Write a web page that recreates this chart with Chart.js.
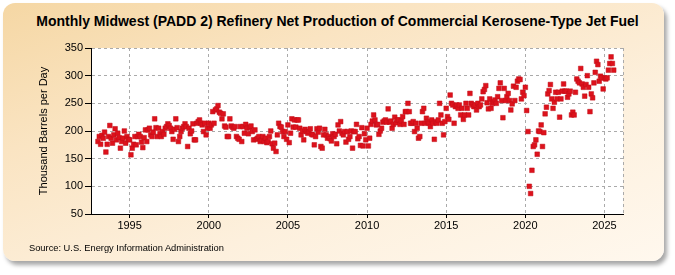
<!DOCTYPE html>
<html>
<head>
<meta charset="utf-8">
<script src="https://cdn.jsdelivr.net/npm/chart.js@4.4.1/dist/chart.umd.min.js"></script>
<style>
  body { margin: 0; background: #fff; }
  #wrap { position: relative; width: 675px; height: 275px; overflow: hidden; }
  #panel {
    position: absolute; left: 3px; top: 3px; width: 661px; height: 258px;
    border-radius: 12px;
    background: linear-gradient(160deg, #f5d7a4 0%, #fae4c2 30%, #fdf0dd 65%, #fff8ee 100%);
    box-shadow: 3px 4px 4px rgba(0, 0, 0, 0.35);
  }
  #title {
    position: absolute; left: 0; top: 13px; width: 675px; text-align: center;
    font: bold 14px "Liberation Sans", Arial, sans-serif; color: #000;
  }
  #source {
    position: absolute; left: 29px; top: 243px;
    font: 9.3px "Liberation Sans", Arial, sans-serif; color: #000;
  }
  canvas { position: absolute; left: 0; top: 0; }
</style>
</head>
<body>
<div id="wrap">
  <div id="panel"></div>
  <div id="title">Monthly Midwest (PADD 2) Refinery Net Production of Commercial Kerosene-Type Jet Fuel</div>
  <canvas id="jetFuel" width="675" height="275"></canvas>
  <div id="source">Source: U.S. Energy Information Administration</div>
</div>
<script>
// monthly values, thousand barrels per day, starting Jan 1993
const startYear = 1993;
const prod1990s = [
  181, 190, 176, 192, 187, 198, 162, 176, 190, 210, 187, 178,
  193, 204, 184, 196, 188, 169, 181, 187, 200, 178, 190, 185,
  184, 157, 169, 176, 190, 175, 190, 194, 190, 180, 170, 188,
  202, 181, 202, 205, 193, 190, 198, 222, 206, 190, 205, 195,
  190, 199, 194, 205, 208, 213, 210, 205, 199, 185, 203, 222,
  206, 181, 190, 199, 205, 208, 213, 208, 172, 205, 195, 200,
  213, 184, 184, 214, 217, 220, 214, 211, 199, 214, 193, 205
];
const prod2000s = [
  214, 205, 211, 235, 214, 238, 240, 246, 234, 232, 222, 231,
  209, 207, 190, 190, 222, 209, 207, 205, 208, 190, 187, 185,
  208, 181, 208, 196, 212, 205, 195, 207, 209, 199, 184, 202,
  185, 187, 190, 181, 184, 190, 181, 187, 179, 181, 190, 200,
  177, 169, 178, 163, 193, 214, 208, 207, 199, 190, 199, 185,
  211, 179, 196, 222, 207, 220, 207, 220, 220, 205, 193, 200,
  184, 203, 199, 196, 199, 204, 194, 193, 175, 190, 204, 198,
  205, 172, 169, 193, 203, 193, 187, 190, 186, 182, 195, 190,
  194, 177, 211, 200, 217, 196, 193, 199, 180, 199, 185, 190,
  200, 169, 199, 199, 212, 186, 190, 174, 206, 173, 195, 184
];
const prod2010s = [
  205, 173, 187, 212, 218, 229, 220, 211, 212, 194, 200, 205,
  216, 218, 220, 216, 240, 216, 218, 205, 212, 225, 215, 220,
  220, 212, 218, 226, 212, 235, 235, 250, 235, 214, 214, 217,
  199, 214, 205, 187, 190, 214, 235, 241, 214, 223, 217, 214,
  208, 220, 214, 185, 217, 214, 220, 250, 229, 214, 193, 217,
  241, 226, 221, 265, 250, 247, 214, 244, 247, 241, 247, 229,
  241, 221, 229, 250, 241, 229, 268, 250, 247, 244, 247, 238,
  250, 244, 247, 258, 271, 275, 282, 251, 240, 258, 241, 250,
  253, 256, 250, 262, 277, 287, 255, 224, 277, 255, 262, 268,
  255, 238, 249, 281, 255, 279, 290, 294, 293, 258, 270, 264
];
const prod2020s = [
  279, 237, 199, 100, 87, 129, 172, 175, 184, 158, 200, 199,
  211, 172, 197, 231, 243, 267, 273, 284, 258, 241, 252, 270,
  258, 270, 225, 258, 272, 285, 272, 272, 261, 267, 272, 229,
  234, 229, 270, 294, 290, 287, 313, 285, 279, 263, 284, 300,
  279, 235, 267, 260, 287, 306, 326, 320, 290, 299, 296, 276,
  296, 294, 296, 310, 322, 334, 322, 310
];
const yearTicks = [1995, 2000, 2005, 2010, 2015, 2020, 2025];
const valueTicks = [50, 100, 150, 200, 250, 300, 350];

const allValues = prod1990s.concat(prod2000s, prod2010s, prod2020s);
const points = allValues.map(function(v, i) {
  return { x: startYear + i / 12, y: v };
});

// white plot area plus dashed right edge
const plotBg = {
  id: 'plotBg',
  beforeDraw(chart) {
    const a = chart.chartArea, ctx = chart.ctx;
    ctx.save();
    ctx.fillStyle = '#fff';
    ctx.fillRect(a.left, a.top, a.right - a.left, a.bottom - a.top);
    ctx.restore();
  },
  beforeDatasetsDraw(chart) {
    const a = chart.chartArea, ctx = chart.ctx;
    ctx.save();
    ctx.strokeStyle = '#aaa';
    ctx.setLineDash([3, 3]);
    ctx.beginPath();
    ctx.moveTo(Math.round(a.right) + 0.5, a.top);
    ctx.lineTo(Math.round(a.right) + 0.5, a.bottom);
    ctx.stroke();
    ctx.restore();
  }
};

const tickFont = { family: '"Liberation Sans", Arial, sans-serif', size: 11 };

new Chart('jetFuel', {
  type: 'scatter',
  data: {
    datasets: [{
      data: points,
      pointStyle: 'rect',
      pointRadius: 3.3,
      backgroundColor: '#dd121c',
      borderColor: '#c00f18',
      borderWidth: 0.5
    }]
  },
  options: {
    responsive: false,
    animation: false,
    layout: { padding: { left: 0, right: 52, top: 48, bottom: 0 } },
    plugins: { legend: { display: false }, tooltip: { enabled: false } },
    scales: {
      x: {
        type: 'linear',
        min: 1992.56,
        max: 2026.17,
        afterBuildTicks: function(scale) {
          scale.ticks = yearTicks.map(function(v) { return { value: v }; });
        },
        afterFit: function(scale) { scale.height = 61; },
        ticks: {
          font: tickFont, color: '#000', padding: 1, maxRotation: 0,
          callback: function(v) { return String(v); }
        },
        grid: { color: '#aaa', tickColor: '#000', tickLength: 4, tickBorderDash: [] },
        border: { color: '#000', width: 1, dash: [3, 3] }
      },
      y: {
        min: 50,
        max: 350,
        afterBuildTicks: function(scale) {
          scale.ticks = valueTicks.map(function(v) { return { value: v }; });
        },
        afterFit: function(scale) { scale.width = 91; },
        ticks: { font: tickFont, color: '#000', padding: 2 },
        grid: { color: '#aaa', tickColor: '#000', tickLength: 6, tickBorderDash: [] },
        border: { color: '#000', width: 1, dash: [3, 3] },
        title: {
          display: true,
          text: 'Thousand Barrels per Day',
          font: { family: '"Liberation Sans", Arial, sans-serif', size: 11 },
          color: '#000',
          padding: { top: 37, bottom: 0 }
        }
      }
    }
  },
  plugins: [plotBg]
});
</script>
</body>
</html>
